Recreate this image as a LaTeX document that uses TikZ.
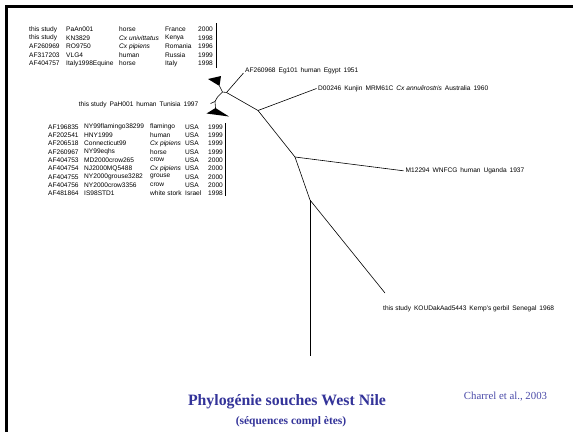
\documentclass[tikz,border=0pt]{standalone}
\usepackage{fontspec}
\setmainfont{Liberation Sans}
\newfontfamily\tnr{Liberation Serif}
\definecolor{titleblue}{HTML}{333399}
\definecolor{refblue}{HTML}{4A4AA8}
\newcommand\gp{\hspace{0.45em}}
\tikzset{
  lab/.style={font=\fontsize{6.6}{7}\selectfont, inner sep=0pt, anchor=west},
  branch/.style={line width=0.6pt, black},
  tri/.style={fill=black},
  bar/.style={line width=0.6pt}
}
\begin{document}
\begin{tikzpicture}[x=1pt,y=-1pt]
\useasboundingbox (0,0) rectangle (573,432);
% frame
\fill (5,5) rectangle (573,7.6);
\fill (5,5) rectangle (8,432);
% table 1
\foreach \a/\b/\c/\d/\e [count=\i] in {
 this study/PaAn001/horse/France/2000,
 this study/KN3829/{\textit{Cx univittatus}}/Kenya/1998,
 AF260969/RO9750/{\textit{Cx pipiens}}/Romania/1996,
 AF317203/VLG4/human/Russia/1999,
 AF404757/Italy1998Equine/horse/Italy/1998}{
  \pgfmathsetmacro\yy{29.3+8.5*(\i-1)}
  \node[lab] (ta\i a) at (29,\yy) {\a};
  \node[lab] (ta\i b) at (66,\yy) {\b};
  \node[lab] (ta\i c) at (119,\yy) {\c};
  \node[lab] (ta\i d) at (165,\yy) {\d};
  \node[lab] (ta\i e) at (198,\yy) {\e};
}
\coordinate (bar1t) at (216,23);
\coordinate (bar1b) at (216,68);
\draw[bar] (bar1t) -- (bar1b);
% table 2
\foreach \a/\b/\c/\d/\e [count=\i] in {
 AF196835/NY99flamingo38299/flamingo/USA/1999,
 AF202541/HNY1999/human/USA/1999,
 AF206518/Connecticut99/{\textit{Cx pipiens}}/USA/1999,
 AF260967/NY99eqhs/horse/USA/1999,
 AF404753/MD2000crow265/crow/USA/2000,
 AF404754/NJ2000MQ5488/{\textit{Cx pipiens}}/USA/2000,
 AF404755/NY2000grouse3282/grouse/USA/2000,
 AF404756/NY2000crow3356/crow/USA/2000,
 AF481864/IS98STD1/white stork/Israel/1998}{
  \pgfmathsetmacro\yy{127+8.3*(\i-1)}
  \node[lab] (tb\i a) at (48,\yy) {\a};
  \node[lab] (tb\i b) at (84,\yy) {\b};
  \node[lab] (tb\i c) at (150,\yy) {\c};
  \node[lab] (tb\i d) at (185,\yy) {\d};
  \node[lab] (tb\i e) at (208,\yy) {\e};
}
\coordinate (bar2t) at (225.7,123);
\coordinate (bar2b) at (225.7,196);
\draw[bar] (bar2t) -- (bar2b);
% tree coordinates
\coordinate (t1a) at (208,79);
\coordinate (t1b) at (221,76);
\coordinate (t1c) at (219.5,86);
\coordinate (n1) at (222.5,92);
\coordinate (n2) at (226.5,92.5);
\coordinate (eg) at (243.5,73);
\coordinate (m) at (217.5,97);
\coordinate (k) at (215,101.5);
\coordinate (ph) at (210.5,103.5);
\coordinate (t2a) at (215.5,108);
\coordinate (t2b) at (206.5,113.5);
\coordinate (t2c) at (229,116.5);
\coordinate (B) at (258,110.5);
\coordinate (kj) at (316.5,88.5);
\coordinate (C) at (295,157);
\coordinate (ug) at (403.5,170.8);
\coordinate (D) at (310,200);
\coordinate (se) at (385,293);
\coordinate (bot) at (310,356);
% triangles
\fill[tri] (t1a) -- (t1b) -- (t1c) -- cycle;
\fill[tri] (t2a) -- (t2b) -- (t2c) -- cycle;
% branches
\draw[branch] (t1c) -- (n1);
\draw[branch] (n1) -- (n2);
\draw[branch] (n2) -- (eg);
\draw[branch] (n2) -- (B);
\draw[branch] (n1) -- (m);
\draw[branch] (m) -- (k);
\draw[branch] (k) -- (ph);
\draw[branch] (k) -- (t2a);
\draw[branch] (B) -- (kj);
\draw[branch] (B) -- (C);
\draw[branch] (C) -- (ug);
\draw[branch] (C) -- (D);
\draw[branch] (D) -- (se);
\draw[branch] (D) -- (bot);
% leaf labels
\node[lab] (egl) at (245,71) {AF260968\gp Eg101\gp human\gp Egypt\gp 1951};
\node[lab] (kjl) at (318,88.5) {D00246\gp Kunjin\gp MRM61C\gp \textit{Cx annulirostris}\gp Australia\gp 1960};
\node[lab, anchor=east] (phl) at (198.5,105) {this study\gp PaH001\gp human\gp Tunisia\gp 1997};
\node[lab] (ugl) at (405.5,171) {M12294\gp WNFCG\gp human\gp Uganda\gp 1937};
\node[lab] (sel) at (383,308.5) {this study\gp KOUDakAad5443\gp Kemp's gerbil\gp Senegal\gp 1968};
% titles
\node[font=\tnr\bfseries\fontsize{15.8}{18}\selectfont, text=titleblue, inner sep=0pt] (title) at (287,401.5) {Phylogénie souches West Nile};
\node[font=\tnr\bfseries\fontsize{11.5}{13}\selectfont, text=titleblue, inner sep=0pt] (sub) at (291,421.5) {(séquences compl ètes)};
\node[font=\tnr\fontsize{10.8}{12}\selectfont, text=refblue, inner sep=0pt] (ref) at (505.5,396.5) {Charrel et al., 2003};
\end{tikzpicture}
\end{document}
